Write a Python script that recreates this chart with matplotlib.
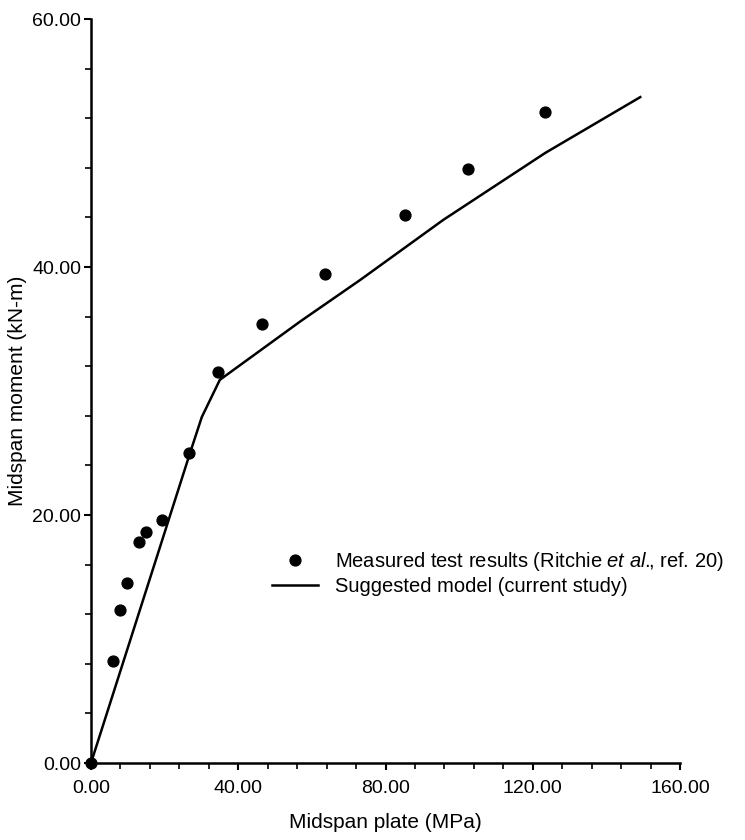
import matplotlib
matplotlib.use("Agg")
import matplotlib.pyplot as plt
from matplotlib.ticker import MultipleLocator, FormatStrFormatter

plt.rcParams['font.family'] = ['Liberation Sans', 'DejaVu Sans']
plt.rcParams['mathtext.fontset'] = 'custom'
plt.rcParams['mathtext.rm'] = 'Liberation Sans'
plt.rcParams['mathtext.it'] = 'Liberation Sans:italic'

# measured test results (Ritchie et al.)
meas_x = [0.0, 6.1, 7.9, 9.7, 13.0, 15.0, 19.2, 26.6, 34.6, 46.5, 63.5, 85.4, 102.4, 123.3]
meas_y = [0.0, 8.25, 12.3, 14.5, 17.8, 18.6, 19.6, 25.0, 31.5, 35.4, 39.4, 44.2, 47.9, 52.5]

# suggested model curve
model_x = [0.0, 26.9, 30.1, 35.0, 56.8, 73.1, 95.7, 123.4, 149.2]
model_y = [0.0, 25.0, 27.9, 30.9, 35.6, 38.95, 43.8, 49.2, 53.7]

fig = plt.figure(figsize=(7.45, 8.4), dpi=100)
ax = fig.add_axes([91/745, 77/840, 589/745, 744/840])

ax.plot(model_x, model_y, color='black', lw=1.8, label='Suggested model (current study)')
ax.plot(meas_x, meas_y, 'o', color='black', ms=7.8, clip_on=False, zorder=5,
        label=r'Measured test results (Ritchie $\it{et\ al.}\!\!$, ref. 20)')

ax.set_xlim(0, 160)
ax.set_ylim(0, 60)
ax.xaxis.set_major_locator(MultipleLocator(40))
ax.xaxis.set_minor_locator(MultipleLocator(8))
ax.yaxis.set_major_locator(MultipleLocator(20))
ax.yaxis.set_minor_locator(MultipleLocator(4))
ax.xaxis.set_major_formatter(FormatStrFormatter('%.2f'))
ax.yaxis.set_major_formatter(FormatStrFormatter('%.2f'))

for s in ['top', 'right']:
    ax.spines[s].set_visible(False)
for s in ['left', 'bottom']:
    ax.spines[s].set_linewidth(1.8)
ax.tick_params(which='major', length=5, width=1.5, labelsize=14)
ax.tick_params(axis='x', which='major', pad=7)
ax.tick_params(axis='y', which='major', pad=2)
ax.tick_params(which='minor', length=4, width=1.2)

ax.set_xlabel('Midspan plate (MPa)', fontsize=15, labelpad=12)
ax.set_ylabel('Midspan moment (kN-m)', fontsize=15, labelpad=4)

handles, labels = ax.get_legend_handles_labels()
ax.legend(handles[::-1], labels[::-1], frameon=False, fontsize=14.5,
          loc='upper left', bbox_to_anchor=(272/745, 1 - 550/840),
          bbox_transform=fig.transFigure, borderaxespad=0, borderpad=0,
          handlelength=2.3, handletextpad=0.85, labelspacing=0.2)

fig.savefig('out.png', dpi=100)
